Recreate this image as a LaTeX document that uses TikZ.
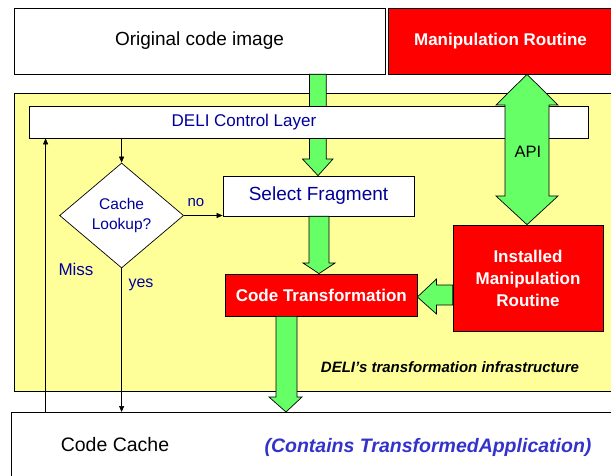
\documentclass[tikz,border=0pt]{standalone}
\usepackage{fontspec}
\setmainfont{Liberation Sans}
\usetikzlibrary{shapes.geometric,arrows.meta}
\definecolor{ylw}{HTML}{FFFF99}
\definecolor{grn}{HTML}{66FF66}
\definecolor{rd}{HTML}{FF0000}
\definecolor{dblue}{HTML}{000099}
\definecolor{lblue}{HTML}{3333CC}
\begin{document}
\begin{tikzpicture}[x=1pt,y=-1pt,
  box/.style={draw=black,line width=0.7pt,rectangle,inner sep=0pt},
  garrow/.style={draw=black,line width=0.7pt,fill=grn,line join=miter},
  thinarr/.style={draw=black,line width=0.6pt,-{Triangle[length=6pt,width=5pt]}},
  lbl/.style={text=dblue}
]
\useasboundingbox (0,0) rectangle (611,476);
\node[box,fill=ylw,minimum width=610pt,minimum height=298pt,anchor=north west] (infra) at (13.6,93) {};
\node[box,fill=white,minimum width=371pt,minimum height=66pt,font=\fontsize{19}{22}\selectfont] (orig) at (199.5,41) {Original code image};
\node[box,fill=rd,text=white,minimum width=224pt,minimum height=66pt,font=\bfseries\fontsize{17}{20}\selectfont] (manip) at (500.5,41) {Manipulation Routine};
\node[box,fill=white,minimum width=191pt,minimum height=40pt,text=dblue,font=\fontsize{19}{22}\selectfont] (sel) at (318.5,196) {Select Fragment};
% green arrow from the original image, behind the control layer
\draw[garrow] (309.5,0 |- orig.south) -- (326.3,0 |- orig.south) -- (326.3,159) -- (333,159) -- (318,0 |- sel.north) -- (302.5,159) -- (309.5,159) -- cycle;
\node[box,fill=white,minimum width=559pt,minimum height=32pt] (deli) at (308.5,122) {};
\node[text=dblue,font=\fontsize{17}{20}\selectfont] (delit) at (244,122) {DELI Control Layer};
\node[draw=black,line width=0.7pt,fill=white,diamond,minimum width=124pt,minimum height=105pt,inner sep=0pt,align=center,text=dblue,font=\fontsize{15.5}{20}\selectfont] (dia) at (121.6,215.5) {Cache\\Lookup?};
\node[box,fill=rd,text=white,minimum width=191.4pt,minimum height=42pt,font=\bfseries\fontsize{17}{20}\selectfont] (ct) at (321.3,295) {Code Transformation};
\node[box,fill=rd,text=white,minimum width=150pt,minimum height=106pt,align=center,font=\bfseries\fontsize{17}{22}\selectfont] (inst) at (528,278) {Installed\\Manipulation\\Routine};
\node[box,fill=white,minimum width=620pt,minimum height=80pt,anchor=north west] (cache) at (11,412) {};
\node[font=\fontsize{19.5}{22}\selectfont] (cct) at (115,445) {Code Cache};
\node[text=lblue,font=\bfseries\itshape\fontsize{19.5}{22}\selectfont] (cont) at (428,447) {(Contains TransformedApplication)};
\node[font=\bfseries\itshape\fontsize{15}{18}\selectfont] (infrat) at (450,367) {DELI’s transformation infrastructure};
\node[lbl,font=\fontsize{17}{20}\selectfont] (miss) at (76,269) {Miss};
\node[lbl,font=\fontsize{16}{20}\selectfont] (yes) at (141,285) {yes};
\node[lbl,font=\fontsize{15}{18}\selectfont] (no) at (196,203) {no};
% green block arrows
\draw[garrow] (309,0 |- sel.south) -- (329,0 |- sel.south) -- (329,263) -- (335,263) -- (319,0 |- ct.north) -- (303,263) -- (309,263) -- cycle;
\draw[garrow] (276,0 |- ct.south) -- (297,0 |- ct.south) -- (297,397) -- (302,397) -- (286,0 |- cache.north) -- (269,397) -- (276,397) -- cycle;
\draw[garrow] (0,285 -| inst.west) -- (436.5,285) -- (436.5,279) -- (0,297 -| ct.east) -- (436.5,314) -- (436.5,305) -- (0,305 -| inst.west) -- cycle;
\draw[garrow] (527,0 |- manip.south) -- (558,105) -- (549,105) -- (549,196) -- (558,196) -- (527,0 |- inst.north) -- (496,196) -- (505,196) -- (505,105) -- (496,105) -- cycle;
\node[font=\fontsize{16.5}{20}\selectfont] (api) at (528,152) {API};
% thin connectors
\coordinate (xa) at (45.6,0);
\coordinate (xb) at (121.6,0);
\draw[thinarr] (xa |- cache.north) -- (xa |- deli.south);
\draw[thinarr] (xb |- deli.south) -- (dia.north);
\draw[thinarr] (dia.south) -- (dia.south |- cache.north);
\draw[thinarr] (dia.east) -- (dia.east -| sel.west);
\end{tikzpicture}
\end{document}
